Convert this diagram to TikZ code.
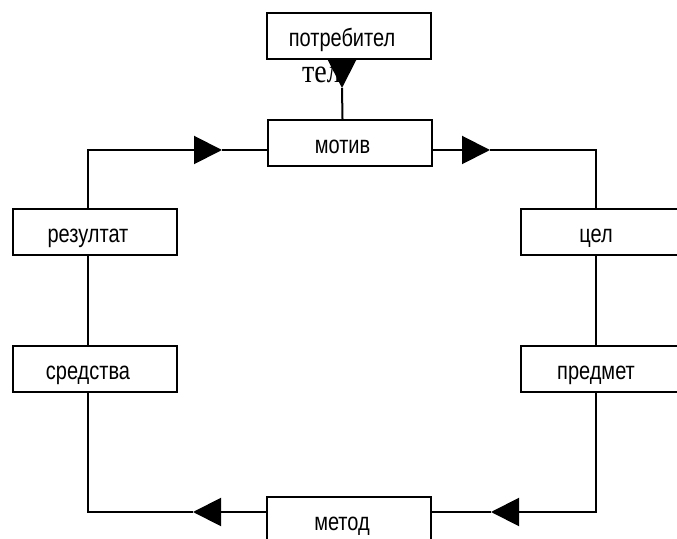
\documentclass[tikz,border=0pt]{standalone}
\usepackage{fontspec}
\setmainfont{Liberation Sans}
\newfontfamily\serifnarrow[FakeStretch=0.85]{Liberation Serif}
\usetikzlibrary{arrows.meta}
\tikzset{
  box/.style={draw, line width=2pt, minimum width=164pt, minimum height=46pt,
    inner sep=0pt, text height=21pt, text depth=0pt,
    font=\addfontfeature{FakeStretch=0.8}\fontsize{25}{27}\selectfont},
  link/.style={line width=2pt},
  tip/.style={link, -{Triangle[length=28pt,width=28pt]}},
}
% box label, set 7pt left of the box centre
\newcommand{\lbl}[1]{#1\kern14pt}
\begin{document}
\begin{tikzpicture}[x=1pt,y=1pt]
\useasboundingbox (0,0) rectangle (677,538);
\clip (0,0) rectangle (677,538);
% boxes
\node[box] (potr)  at (349,502)   {\lbl{потребител}};
\node[box] (motiv) at (349.5,395) {\lbl{мотив}};
\node[box] (res)   at (95,305.5)  {\lbl{резултат}};
\node[box] (sred)  at (95,169)    {\lbl{средства}};
\node[box] (tsel)  at (603,305.5) {\lbl{цел}};
\node[box] (pred)  at (603,169)   {\lbl{предмет}};
\node[box] (metod) at (349,18)    {\lbl{метод}};
% arrow tips on the loop
\coordinate (t0) at (342,450);
\coordinate (t1) at (222,388);
\coordinate (t2) at (490,388);
\coordinate (t3) at (491,26);
\coordinate (t4) at (193,26);
% stray label under the top box, covered by the arrow head
\node[font=\serifnarrow\fontsize{33}{35}\selectfont, anchor=base west, inner sep=0pt] (tel) at (302,455) {тел};
% top feed
\draw[tip] ([xshift=-7pt]potr.south) -- (t0);
\draw[link] (t0) -- ([xshift=-7pt]motiv.north);
% upper loop
\draw[tip] ([xshift=-7pt]res.north) |- (t1);
\draw[link] (t1) -- ([yshift=-7pt]motiv.west);
\draw[tip] ([yshift=-7pt]motiv.east) -- (t2);
\draw[link] (t2) -| ([xshift=-7pt]tsel.north);
% sides
\draw[link] ([xshift=-7pt]res.south) -- ([xshift=-7pt]sred.north);
\draw[link] ([xshift=-7pt]tsel.south) -- ([xshift=-7pt]pred.north);
% lower loop
\draw[tip] ([xshift=-7pt]pred.south) |- (t3);
\draw[link] (t3) -- ([yshift=8pt]metod.east);
\draw[tip] ([yshift=8pt]metod.west) -- (t4);
\draw[link] (t4) -| ([xshift=-7pt]sred.south);
\end{tikzpicture}
\end{document}
